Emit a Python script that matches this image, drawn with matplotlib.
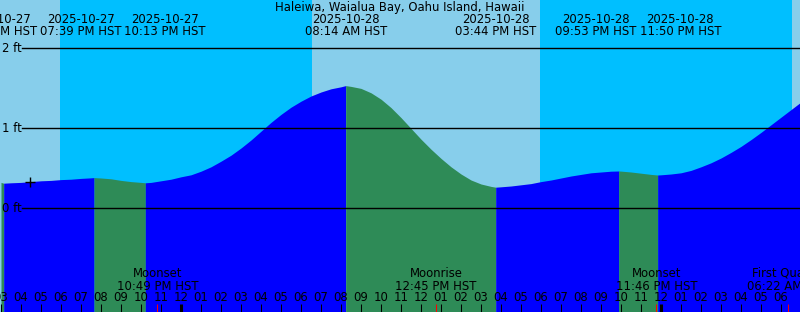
import matplotlib
matplotlib.use('Agg')
import matplotlib.pyplot as plt
import pandas as pd

station = 'Haleiwa, Waialua Bay, Oahu Island, Hawaii'

# tide level (ft) read every half hour from 2025-10-27 15:00
curve_start = '2025-10-27 15:00'
curve_levels = [
    0.32, 0.315, 0.32, 0.33, 0.34, 0.345, 0.355, 0.36, 0.37, 0.377,
    0.375, 0.365, 0.345, 0.33, 0.32, 0.32, 0.34, 0.36, 0.39, 0.415,
    0.46, 0.515, 0.585, 0.66, 0.75, 0.85, 0.96, 1.07, 1.17, 1.26,
    1.335, 1.40, 1.45, 1.49, 1.515, 1.52, 1.495, 1.44, 1.36, 1.255,
    1.13, 0.995, 0.86, 0.735, 0.62, 0.515, 0.425, 0.35, 0.30, 0.27,
    0.265, 0.275, 0.29, 0.305, 0.33, 0.35, 0.375, 0.40, 0.42, 0.44,
    0.45, 0.46, 0.461, 0.45, 0.435, 0.42, 0.415, 0.425, 0.44, 0.47,
    0.515, 0.565, 0.625, 0.695, 0.77, 0.855, 0.945, 1.04, 1.135, 1.23,
    1.325,
]

# highs and lows
tide_times = ['2025-10-27 15:08', '2025-10-27 19:39', '2025-10-27 22:13',
              '2025-10-28 08:14', '2025-10-28 15:44', '2025-10-28 21:53',
              '2025-10-28 23:50']
tide_levels = [0.31, 0.38, 0.315, 1.53, 0.26, 0.4625, 0.4125]

# sun: sunset, sunrise, sunset, sunrise
sun_times = ['2025-10-27 17:58', '2025-10-28 06:34',
             '2025-10-28 17:58', '2025-10-29 06:34']

moon_names = ['Moonset', 'Moonrise', 'Moonset', 'First Quarter']
moon_times = ['2025-10-27 22:49', '2025-10-28 12:45',
              '2025-10-28 23:46', '2025-10-29 06:22']

now_time = '2025-10-27 16:28'
now_level = 0.325

level_lines = [0, 1, 2]

base = pd.Timestamp('2025-10-27')


def hrs(t):
    return (pd.to_datetime(t) - base) / pd.Timedelta(hours=1)


W, H = 800, 312
x0 = 14.95
x1 = x0 + 40
y0, y1 = -1.3, 2.6
pxh = W / (x1 - x0)

fig = plt.figure(figsize=(8, 3.12), dpi=100)
ax = fig.add_axes([0, 0, 1, 1])
ax.set_xlim(x0, x1)
ax.set_ylim(y0, y1)
ax.axis('off')
plt.rcParams['font.family'] = 'DejaVu Sans'
fs = 8.4

# day / night background
edges = [x0] + [hrs(t) for t in sun_times] + [x1]
for i in range(len(edges) - 1):
    col = '#87CEEB' if i % 2 == 0 else '#00BFFF'
    ax.axvspan(edges[i], edges[i + 1], color=col, lw=0, zorder=0)

# tide curve, blue when rising, green when falling
ct = pd.date_range(curve_start, periods=len(curve_levels), freq='30min')
samples = sorted(list(zip([hrs(t) for t in ct], curve_levels)) +
                 list(zip([hrs(t) for t in tide_times], tide_levels)))
sx = [p[0] for p in samples]
sy = [p[1] for p in samples]
breaks = [0] + [sx.index(hrs(t)) for t in tide_times] + [len(sx) - 1]
breaks = sorted(set(breaks))
for a, b in zip(breaks[:-1], breaks[1:]):
    col = 'blue' if sy[b] > sy[a] else '#2E8B57'
    ax.fill_between(sx[a:b + 1], y0, sy[a:b + 1], color=col, lw=0, zorder=1)

# level lines
for lv in level_lines:
    ax.axhline(lv, xmin=22 / W, xmax=1, color='black', lw=1, zorder=2)
    ax.text(2 / W, lv, f'{lv} ft', transform=ax.get_yaxis_transform(),
            ha='left', va='center', fontsize=fs, zorder=3)

ax.plot(hrs(now_time), now_level, marker='+', color='black', ms=7,
        mew=1, zorder=3)

ax.text(0.5, 1 - 7.5 / H, station, transform=ax.transAxes, ha='center',
        va='center', fontsize=fs)

# tide event labels, pushed apart when they overlap
tx = [hrs(t) for t in tide_times]
rend = fig.canvas.get_renderer()
probe = ax.text(0, 0, '00:00 PM HST', fontsize=fs)
sep = (probe.get_window_extent(rend).width + 3) / pxh
probe.remove()
pos = list(tx)
for _ in range(300):
    for i in range(len(pos) - 1):
        ov = sep - (pos[i + 1] - pos[i])
        if ov > 0:
            pos[i] -= ov / 2
            pos[i + 1] += ov / 2
tr = ax.get_xaxis_transform()
for t, p in zip(tide_times, pos):
    ts = pd.Timestamp(t)
    ax.text(p, 1 - 19.5 / H, ts.strftime('%Y-%m-%d'), transform=tr,
            ha='center', va='center', fontsize=fs)
    ax.text(p, 1 - 31.5 / H, ts.strftime('%I:%M %p') + ' HST', transform=tr,
            ha='center', va='center', fontsize=fs)

# hour ticks along the bottom
tick_len = 8 / H
first = int(x0) + 1
for h in range(first, int(x1) + 1):
    hh = h % 12
    lab = f'{hh if hh else 12:02d}'
    ax.text(h, 1 - 297.5 / H, lab, transform=tr, ha='center', va='center',
            fontsize=fs, zorder=3)
    lw = 2.2 if h % 24 == 0 else 0.75
    ax.vlines(h, 0, tick_len, transform=tr, color='black', lw=lw, zorder=3)

# moon events
for name, t in zip(moon_names, moon_times):
    m = hrs(t)
    ax.vlines(m, 0, tick_len, transform=tr, color='red', lw=0.75, zorder=4)
    ax.text(m, 1 - 273.5 / H, name, transform=tr, ha='center', va='center',
            fontsize=fs, zorder=3)
    ax.text(m, 1 - 286 / H, pd.Timestamp(t).strftime('%I:%M %p') + ' HST',
            transform=tr, ha='center', va='center', fontsize=fs, zorder=3)

fig.savefig('out.png', dpi=100)
